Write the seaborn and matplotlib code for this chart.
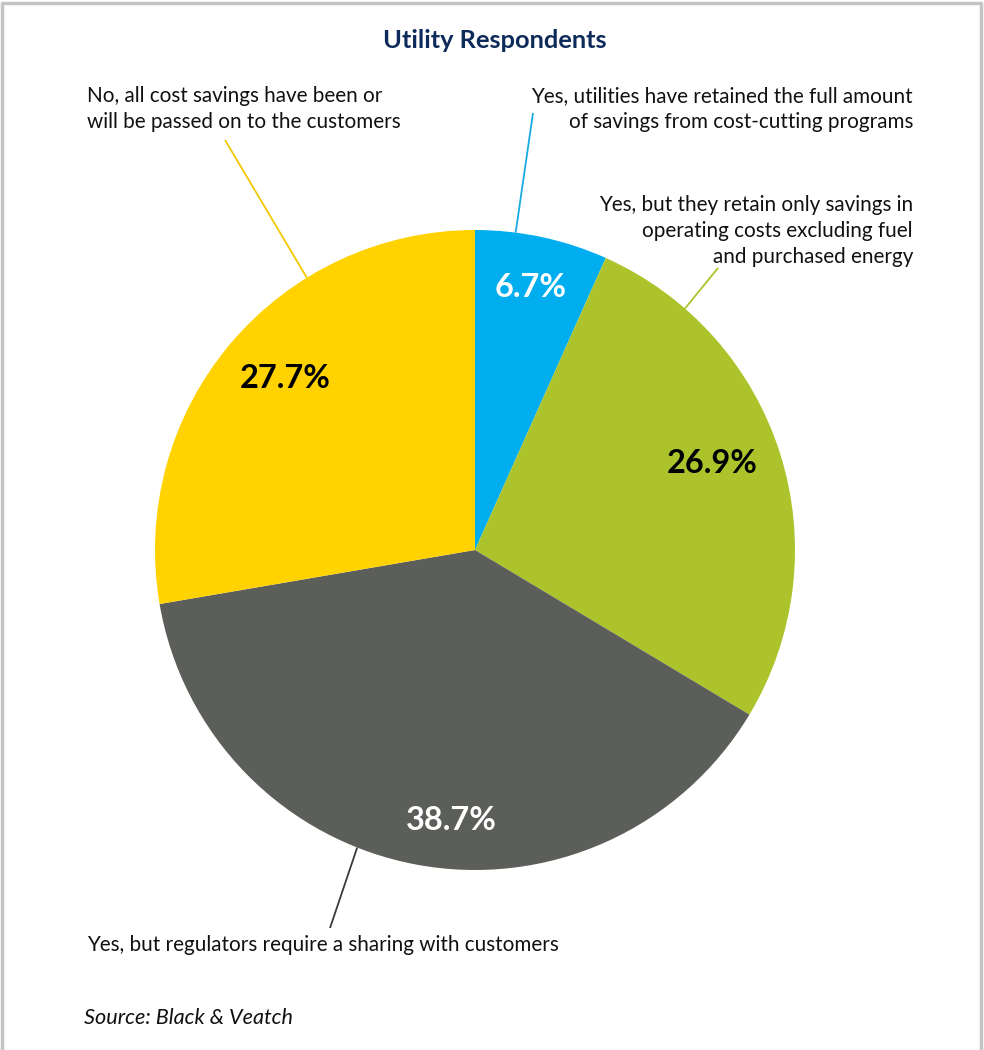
import numpy as np
import matplotlib
matplotlib.use("Agg")
import matplotlib.pyplot as plt
import seaborn as sns

# ---- data ----
categories = [
    "Yes, utilities have retained the full amount\nof savings from cost-cutting programs",
    "Yes, but they retain only savings in\noperating costs excluding fuel\nand purchased energy",
    "Yes, but regulators require a sharing with customers",
    "No, all cost savings have been or\nwill be passed on to the customers",
]
shares = [6.7, 26.9, 38.7, 27.7]
colors = ["#00AEEF", "#ADC32B", "#5C5E5A", "#FFD200"]
pct_colors = ["white", "black", "white", "black"]
title = "Utility Respondents"
source = "Source: Black & Veatch"

sns.set_theme(style="white")
plt.rcParams["font.family"] = ["Lato", "DejaVu Sans"]

W, H = 984, 1050
fig = plt.figure(figsize=(W / 100, H / 100), dpi=100)
ax = fig.add_axes([0, 0, 1, 1])

def Y(y):
    # image-pixel y (top down) -> axes y
    return H - y

cx, cy, R = 475, 550, 320
wedges, _ = ax.pie(shares, colors=colors, startangle=90, counterclock=False,
                   center=(cx, Y(cy)), radius=R, frame=True,
                   wedgeprops=dict(linewidth=0))
ax.set_xlim(0, W)
ax.set_ylim(0, H)
ax.set_aspect("equal")
ax.axis("off")

# percent labels: (angle from top clockwise, radial fraction)
pct_pos = [(12, 0.84), (70, 0.79), (185, 0.85), (312, 0.80)]
for val, col, (ang, frac) in zip(shares, pct_colors, pct_pos):
    a = np.deg2rad(ang)
    x = cx + R * frac * np.sin(a)
    y = cy - R * frac * np.cos(a)
    ax.text(x, Y(y), f"{val:.1f}%", ha="center", va="center", color=col,
            fontsize=23.4, fontweight="bold")

# leader lines: start angle on the rim, end point in image px
leaders = [(7.3, (533, 113)), (41, (718, 268)), (201.6, (330, 928)), (328.3, (225, 140))]
line_cols = ["#1BA9E1", "#ADC32B", "#3A3A3A", "#F2C800"]
for (ang, (ex, ey)), lc in zip(leaders, line_cols):
    a = np.deg2rad(ang)
    sx = cx + R * np.sin(a)
    sy = cy - R * np.cos(a)
    ax.plot([sx, ex], [Y(sy), Y(ey)], color=lc, lw=1.3, solid_capstyle="butt")

lab_kw = dict(fontsize=14.9, color="#111111", linespacing=1.38)
ax.text(913, Y(86), categories[0], ha="right", va="top", **lab_kw)
ax.text(913, Y(195), categories[1], ha="right", va="top", **lab_kw)
ax.text(87, Y(935), categories[2], ha="left", va="top", **lab_kw)
ax.text(87, Y(86), categories[3], ha="left", va="top", **lab_kw)

ax.text(495, Y(40), title, ha="center", va="center", fontsize=18.3,
        fontweight="bold", color="#0D2B5A")
ax.text(84, Y(1018), source, ha="left", va="center", fontsize=15.6,
        style="italic", color="#111111")

# outer frame (left, top, right)
fc = "#C4C4C4"
ax.plot([2, 2], [0, Y(3)], color=fc, lw=2.5)
ax.plot([2, 981], [Y(3), Y(3)], color=fc, lw=2.5)
ax.plot([981, 981], [0, Y(3)], color=fc, lw=2.5)

fig.savefig("out.png", dpi=100)
